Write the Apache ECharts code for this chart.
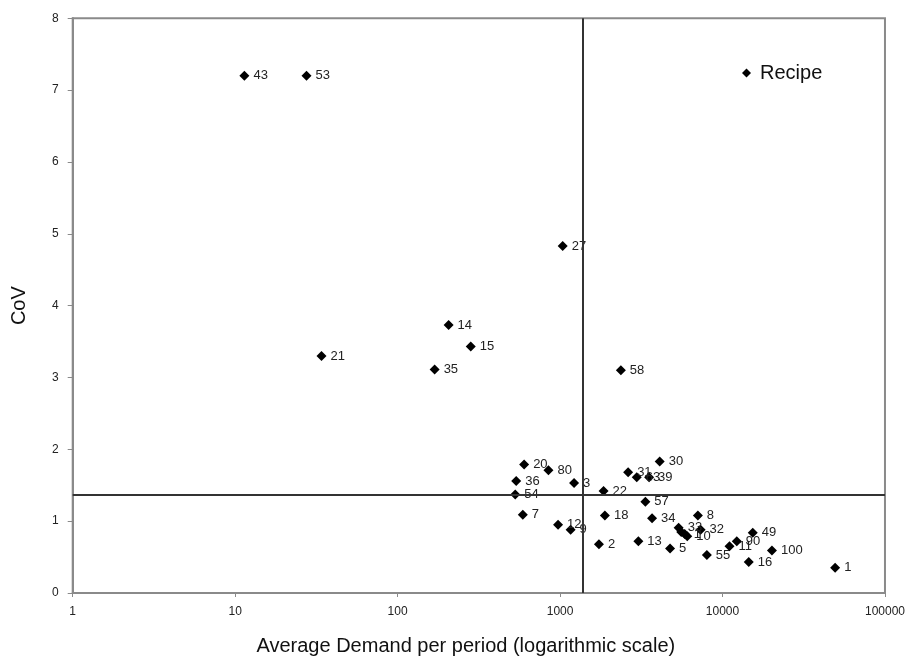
<!DOCTYPE html>
<html>
<head>
<meta charset="utf-8">
<script src="https://cdn.jsdelivr.net/npm/echarts@6/dist/echarts.min.js"></script>
<style>html,body{margin:0;padding:0;background:#fff}#c{width:908px;height:661px}</style>
</head>
<body>
<div id="c"></div>
<script>
// Item labels, average demand per period, coefficient of variation
var itemLabels = ['43','53','27','14','15','21','35','58',
  '20','80','36','3','54','22','31','63','39','30','57',
  '7','18','34','12','9','2','13','5',
  '8','33','','1','10','32','55','11','90','49','100','16','1'];
var avgDemand = [11.4, 27.5, 1038, 206, 282, 34.0, 169, 2367,
  601, 848, 537, 1219, 530, 1852, 2624, 2966, 3532, 4103, 3350,
  590, 1888, 3683, 972, 1161, 1735, 3034, 4753,
  7050, 5370, 5570, 5850, 6065, 7330, 8010, 11040, 12240, 15350, 20150, 14500, 49350];
var cov = [7.20, 7.20, 4.83, 3.73, 3.43, 3.30, 3.11, 3.10,
  1.79, 1.71, 1.56, 1.53, 1.37, 1.42, 1.68, 1.61, 1.61, 1.83, 1.27,
  1.09, 1.08, 1.04, 0.95, 0.88, 0.68, 0.72, 0.62,
  1.08, 0.91, 0.85, 0.82, 0.79, 0.88, 0.53, 0.65, 0.72, 0.84, 0.59, 0.43, 0.35];
var thresholdDemand = 1380;
var thresholdCoV = 1.37;
var yTicks = [0, 8, 1]; // min, max, interval

var font = '"Liberation Sans", Arial, sans-serif';
var points = avgDemand.map(function (d, i) { return [d, cov[i], itemLabels[i]]; });

var chart = echarts.init(document.getElementById('c'));
chart.setOption({
  animation: false,
  backgroundColor: '#ffffff',
  textStyle: { fontFamily: font },
  grid: { left: 72.7, right: 20.3, top: 18.3, bottom: 64.3, show: true,
          borderColor: '#8a8a8a', borderWidth: 2, backgroundColor: 'transparent' },
  legend: {
    data: ['Recipe'], left: 737, top: 58, icon: 'diamond',
    itemWidth: 9, itemHeight: 9,
    itemStyle: { color: '#000' },
    textStyle: { fontFamily: font, fontSize: 20, color: '#111', padding: [0, 0, 0, 4] }
  },
  xAxis: {
    type: 'log', logBase: 10, min: 1, max: 100000,
    name: 'Average Demand per period (logarithmic scale)',
    nameLocation: 'middle', nameGap: 43,
    nameTextStyle: { fontFamily: font, fontSize: 20, color: '#111', padding: [0, 26, 0, 0] },
    axisLine: { show: true, lineStyle: { color: '#8a8a8a', width: 2 } },
    axisTick: { show: true, length: 4, lineStyle: { color: '#8a8a8a' } },
    axisLabel: { fontFamily: font, fontSize: 12, color: '#222', margin: 13,
      formatter: function (v) { return String(Math.round(v)); } },
    splitLine: { show: false }, minorTick: { show: false }
  },
  yAxis: {
    type: 'value', min: yTicks[0], max: yTicks[1], interval: yTicks[2],
    name: 'CoV', nameLocation: 'middle', nameGap: 43,
    nameTextStyle: { fontFamily: font, fontSize: 20, color: '#111' },
    axisLine: { show: true, lineStyle: { color: '#8a8a8a', width: 2 } },
    axisTick: { show: true, length: 5, lineStyle: { color: '#8a8a8a' } },
    axisLabel: { fontFamily: font, fontSize: 12, color: '#222', margin: 14 },
    splitLine: { show: false }
  },
  series: [{
    name: 'Recipe', type: 'scatter', symbol: 'diamond', symbolSize: 10,
    itemStyle: { color: '#000', opacity: 1 },
    data: points,
    label: { show: true, position: 'right', distance: 4,
      fontFamily: font, fontSize: 13, color: '#222',
      formatter: function (p) { return p.data[2]; } },
    markLine: {
      silent: true, symbol: 'none', label: { show: false },
      lineStyle: { color: '#333', width: 2, type: 'solid' },
      data: [{ xAxis: thresholdDemand }, { yAxis: thresholdCoV }]
    }
  }]
});
</script>
</body>
</html>
